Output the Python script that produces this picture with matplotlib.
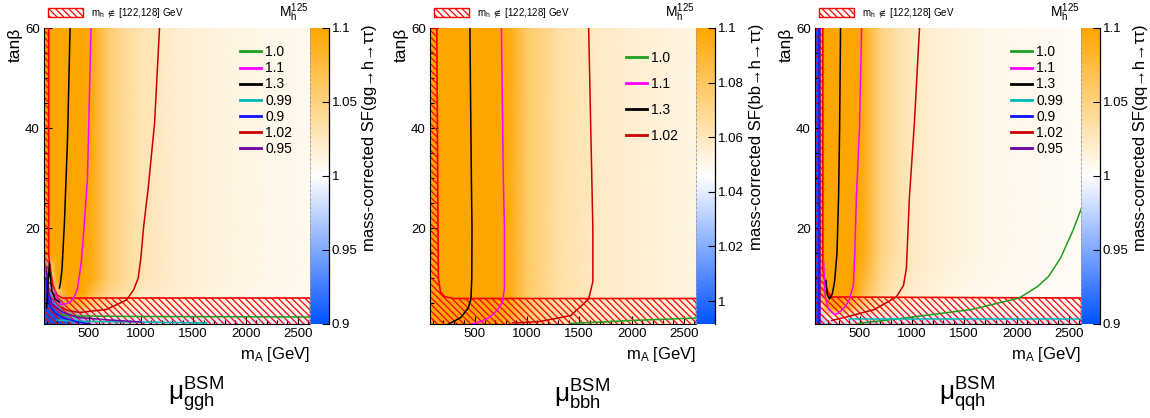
import numpy as np
import matplotlib
matplotlib.use("Agg")
import matplotlib.pyplot as plt
from matplotlib.colors import LinearSegmentedColormap, Normalize
from matplotlib.patches import Polygon, Patch
from matplotlib.lines import Line2D
from matplotlib.ticker import MultipleLocator, FormatStrFormatter

plt.rcParams['font.family'] = ['Liberation Sans', 'DejaVu Sans']
plt.rcParams['mathtext.fontset'] = 'custom'
plt.rcParams['mathtext.rm'] = 'Liberation Sans'
plt.rcParams['mathtext.it'] = 'Liberation Sans:italic'
plt.rcParams['hatch.linewidth'] = 0.9

# ---- heatmap grid (mA [GeV] x tanb) ----
mA_grid = [90, 115, 125, 200, 300, 450, 550, 700, 850, 1000, 1300, 1700, 2200, 2620]
tb_grid = [0.5, 2, 4, 7, 10, 15, 30, 60]

sf_ggh = [
    [0.85, 0.85, 0.86, 0.87, 0.9, 0.95, 0.97, 0.975, 0.975, 0.975, 0.978, 0.98, 0.982, 0.985],
    [0.85, 0.86, 0.87, 0.88, 0.92, 0.97, 0.985, 0.99, 0.99, 0.99, 0.99, 0.99, 0.992, 0.993],
    [0.86, 0.87, 0.88, 0.92, 1.08, 1.06, 1.04, 1.03, 1.02, 1.015, 1.01, 1.008, 1.006, 1.005],
    [0.88, 0.9, 0.92, 1.05, 1.2, 1.12, 1.07, 1.045, 1.035, 1.025, 1.018, 1.012, 1.008, 1.006],
    [0.92, 0.96, 1.0, 1.2, 1.2, 1.15, 1.09, 1.055, 1.04, 1.03, 1.02, 1.013, 1.009, 1.007],
    [1.1, 1.15, 1.2, 1.2, 1.2, 1.15, 1.09, 1.055, 1.04, 1.03, 1.02, 1.013, 1.009, 1.007],
    [1.2, 1.2, 1.2, 1.2, 1.2, 1.15, 1.09, 1.055, 1.04, 1.03, 1.02, 1.013, 1.009, 1.007],
    [1.2, 1.2, 1.2, 1.2, 1.2, 1.15, 1.09, 1.055, 1.04, 1.03, 1.02, 1.013, 1.009, 1.007],
]
sf_bbh = [
    [1.15, 1.15, 1.15, 1.15, 1.15, 1.15, 1.13, 1.1, 1.085, 1.072, 1.062, 1.056, 1.053, 1.051],
    [1.15, 1.15, 1.15, 1.15, 1.15, 1.15, 1.14, 1.11, 1.09, 1.075, 1.064, 1.057, 1.054, 1.052],
    [1.15, 1.15, 1.15, 1.15, 1.15, 1.15, 1.15, 1.12, 1.095, 1.078, 1.065, 1.058, 1.054, 1.052],
    [1.15, 1.15, 1.15, 1.15, 1.15, 1.15, 1.15, 1.12, 1.095, 1.078, 1.065, 1.058, 1.054, 1.052],
    [1.15, 1.15, 1.15, 1.15, 1.15, 1.15, 1.15, 1.12, 1.095, 1.078, 1.065, 1.058, 1.054, 1.052],
    [1.15, 1.15, 1.15, 1.15, 1.15, 1.15, 1.15, 1.12, 1.095, 1.078, 1.065, 1.058, 1.054, 1.052],
    [1.15, 1.15, 1.15, 1.15, 1.15, 1.15, 1.15, 1.12, 1.095, 1.078, 1.065, 1.058, 1.054, 1.052],
    [1.15, 1.15, 1.15, 1.15, 1.15, 1.15, 1.15, 1.12, 1.095, 1.078, 1.065, 1.058, 1.054, 1.052],
]
sf_qqh = [
    [0.88, 0.9, 0.95, 0.97, 0.975, 0.975, 0.975, 0.975, 0.975, 0.975, 0.975, 0.978, 0.98, 0.98],
    [0.88, 0.9, 0.97, 1.0, 1.0, 0.995, 0.99, 0.99, 0.99, 0.99, 0.99, 0.99, 0.99, 0.99],
    [0.88, 0.9, 1.0, 1.1, 1.1, 1.06, 1.04, 1.025, 1.015, 1.01, 1.006, 1.003, 1.001, 1.0],
    [0.88, 0.9, 1.1, 1.2, 1.15, 1.1, 1.07, 1.04, 1.028, 1.02, 1.012, 1.007, 1.004, 1.002],
    [0.88, 0.9, 1.15, 1.2, 1.2, 1.12, 1.08, 1.045, 1.03, 1.022, 1.013, 1.008, 1.005, 1.003],
    [0.88, 0.9, 1.2, 1.2, 1.2, 1.15, 1.09, 1.05, 1.035, 1.025, 1.015, 1.009, 1.006, 1.004],
    [0.88, 0.9, 1.2, 1.2, 1.2, 1.15, 1.09, 1.05, 1.035, 1.025, 1.015, 1.009, 1.006, 1.004],
    [0.88, 0.9, 1.2, 1.2, 1.2, 1.15, 1.09, 1.05, 1.035, 1.025, 1.015, 1.009, 1.006, 1.004],
]

# ---- mu contour lines (mA, tanb) ----
ggh_c10 = [(222, 2.6), (400, 2.4), (1000, 2.3), (2620, 2.2)]
ggh_c11 = [(524, 60), (490, 30), (450, 18), (432, 13.4), (410, 10), (394, 7.8), (360, 6),
           (318, 5.1), (280, 4.8), (241, 4.7), (210, 5.2), (193, 6.2), (180, 7.5)]
ggh_c13 = [(324, 60), (300, 38), (270, 21), (255, 15), (248, 12), (240, 10.5), (232, 9), (222, 8)]
ggh_c13b = [(100, 4), (112, 8), (126, 13), (134, 10.5), (150, 7.5), (180, 5.8), (222, 5.2)]
ggh_c099 = [(200, 1.6), (500, 1.3), (1000, 1.2), (1630, 1.0)]
ggh_c09 = [(92, 10), (105, 7), (130, 4.5), (180, 3), (260, 2), (400, 1.2), (500, 0.9)]
ggh_c102 = [(1178, 60), (1131, 41), (1070, 28), (1025, 20), (1000, 14), (975, 10), (930, 7.6),
            (863, 5.6), (670, 3.7), (414, 3.1), (300, 3.5), (250, 4.1)]
ggh_c095 = [(98, 12), (115, 7.5), (150, 4.8), (250, 3.2), (400, 2.1), (700, 1.6), (1000, 1.2)]

bbh_c10 = [(1418, 0.9), (2000, 1.5), (2620, 2.0)]
bbh_c11 = [(757, 60), (775, 30), (786, 20), (786, 8), (767, 5.2), (720, 3.6), (641, 2.1),
           (560, 1.3), (476, 0.8)]
bbh_c13 = [(456, 60), (470, 30), (476, 20), (474, 10), (466, 5.8), (440, 4), (369, 2.1),
           (300, 1.3), (252, 0.8)]
bbh_c102 = [(1590, 60), (1610, 40), (1630, 20), (1630, 9.3), (1590, 5.8), (1420, 2.5),
            (1125, 1.3), (865, 1.0)]

qqh_c10 = [(490, 0.9), (930, 2.0), (1570, 3.7), (2025, 6.0), (2200, 8.3), (2305, 10.3),
           (2420, 14), (2540, 19.6), (2620, 24)]
qqh_c11 = [(520, 60), (500, 40), (470, 26), (455, 15), (442, 8.6), (400, 5.5), (357, 4.1),
           (300, 3.0), (262, 2.7), (205, 3.7), (175, 6), (167, 8.6), (157, 13.4)]
qqh_c13 = [(319, 60), (310, 40), (300, 26), (285, 15), (262, 9.3), (240, 6.8), (214, 5.8),
           (195, 6.5), (186, 7.9), (180, 9.5)]
qqh_c099 = [(400, 1.9), (1000, 1.9), (2620, 1.9)]
qqh_c09 = [(112, 0.8), (112, 60)]
qqh_c102 = [(1073, 60), (1024, 41), (976, 26), (960, 18), (948, 12), (920, 8.5), (852, 6.2),
            (643, 3.7), (357, 2.1), (233, 1.5)]
qqh_c095 = [(122, 0.8), (122, 60)]

# ---- excluded m_h region outlines (mA, tanb) ----
excl_ggh = [(70, 0.5), (70, 60), (120, 60), (120, 15), (126, 13.4), (160, 8.5), (200, 6.6),
            (250, 6.0), (2620, 6.0), (2620, 0.5)]
excl_bbh = [(70, 0.5), (70, 60), (140, 60), (150, 25), (155, 10), (175, 7.2), (210, 6.3),
            (300, 5.9), (2620, 5.9), (2620, 0.5)]
excl_qqh = [(70, 0.5), (70, 60), (150, 60), (150, 12), (157, 10.7), (190, 7.5), (233, 6.2),
            (2620, 6.0), (2620, 0.5)]

col = {'1.0': '#1f9e1f', '1.1': '#ff00ff', '1.3': 'black', '0.99': '#00b8b8',
       '0.9': '#1010ff', '1.02': '#cc0000', '0.95': '#7000a0'}

cmap = LinearSegmentedColormap.from_list('sf', [(0.0, 0.32, 1.0), (1, 1, 1), (1.0, 0.647, 0.0)])
HATCH = '\\\\\\\\\\'

W, H = 1150, 418
fig = plt.figure(figsize=(W / 100, H / 100), dpi=100)

panels = [
    dict(sf=sf_ggh, lines=[('1.0', ggh_c10), ('1.1', ggh_c11), ('1.3', ggh_c13), ('0.99', ggh_c099),
                           ('0.9', ggh_c09), ('1.02', ggh_c102), ('0.95', ggh_c095)],
         extra=[('1.3', ggh_c13b)], excl=excl_ggh, vmin=0.9, vmax=1.1,
         cticks=[0.9, 0.95, 1.0, 1.05, 1.1], proc='gg', sub='ggh', left=44,
         lspace=0.15, ly=0.965),
    dict(sf=sf_bbh, lines=[('1.0', bbh_c10), ('1.1', bbh_c11), ('1.3', bbh_c13), ('1.02', bbh_c102)],
         extra=[], excl=excl_bbh, vmin=0.9916, vmax=1.1,
         cticks=[1.0, 1.02, 1.04, 1.06, 1.08, 1.1], proc='bb', sub='bbh', left=430,
         lspace=0.85, ly=0.945),
    dict(sf=sf_qqh, lines=[('1.0', qqh_c10), ('1.1', qqh_c11), ('1.3', qqh_c13), ('0.99', qqh_c099),
                           ('0.9', qqh_c09), ('1.02', qqh_c102), ('0.95', qqh_c095)],
         extra=[], excl=excl_qqh, vmin=0.9, vmax=1.1,
         cticks=[0.9, 0.95, 1.0, 1.05, 1.1], proc='qq', sub='qqh', left=815,
         lspace=0.15, ly=0.965),
]

top, bot = 28, 324
aw, cw = 266, 19
for p in panels:
    x0 = p['left']
    ax = fig.add_axes([x0 / W, 1 - bot / H, aw / W, (bot - top) / H])
    cax = fig.add_axes([(x0 + aw) / W, 1 - bot / H, cw / W, (bot - top) / H])

    norm = Normalize(vmin=p['vmin'], vmax=p['vmax'])
    mesh = ax.pcolormesh(mA_grid, tb_grid, np.array(p['sf']), cmap=cmap, norm=norm,
                         shading='gouraud', zorder=0)

    ax.add_patch(Polygon(p['excl'], closed=True, facecolor='none', edgecolor='#ff0000',
                         hatch=HATCH, lw=1.2, zorder=2))

    handles = []
    for lab, pts in p['lines']:
        xs, ys = zip(*pts)
        ax.plot(xs, ys, color=col[lab], lw=1.1, zorder=3)
        handles.append(Line2D([], [], color=col[lab], lw=2, label=lab))
    for lab, pts in p['extra']:
        xs, ys = zip(*pts)
        ax.plot(xs, ys, color=col[lab], lw=1.1, zorder=3)

    ax.set_xlim(75, 2615)
    ax.set_ylim(0.8, 60)
    ax.set_xticks([500, 1000, 1500, 2000, 2500])
    ax.set_yticks([20, 40, 60])
    ax.xaxis.set_minor_locator(MultipleLocator(100))
    ax.yaxis.set_minor_locator(MultipleLocator(5))
    ax.tick_params(which='both', direction='in', labelsize=9.5, width=0.8, pad=3)
    ax.tick_params(which='major', length=6)
    ax.tick_params(which='minor', length=3)
    for s in ('top', 'right'):
        ax.spines[s].set_visible(False)

    leg = ax.legend(handles=handles, loc='upper left', bbox_to_anchor=(0.71, p['ly']),
                    frameon=False, fontsize=10, handlelength=1.5, handletextpad=0.35,
                    labelspacing=p['lspace'], borderpad=0)
    ax.add_artist(leg)
    hpatch = Patch(facecolor='white', edgecolor='#ff0000', hatch=HATCH, lw=1.0,
                   label=r'$\mathrm{m_h}\ \notin\ $[122,128] GeV')
    ax.legend(handles=[hpatch], loc='lower left', bbox_to_anchor=(-0.01, 1.005), frameon=False,
              fontsize=7, handlelength=3.6, handleheight=1.0, handletextpad=0.8, borderpad=0.2)

    ax.text(0.995, 1.012, r'$\mathrm{M_h^{125}}$', transform=ax.transAxes, ha='right',
            va='bottom', fontsize=10)

    cb = fig.colorbar(mesh, cax=cax)
    cb.set_ticks(p['cticks'])
    cb.ax.yaxis.set_major_formatter(FormatStrFormatter('%g'))
    cb.outline.set_visible(False)
    cax.tick_params(direction='in', length=5, width=0.8, labelsize=9.5, pad=2)
    cax.plot([1, 1], [0, 1], transform=cax.transAxes, color='black', lw=0.9, clip_on=False)
    cax.plot([0, 0], [0, 1], transform=cax.transAxes, color='#999999', lw=0.6, ls='--',
             clip_on=False)

    fig.text((x0 + 326) / W, 1 - (top - 4) / H, 'mass-corrected SF(%s→h→ττ)' % p['proc'],
             rotation=90, ha='center', va='top', fontsize=12)
    fig.text((x0 - 29) / W, 1 - top / H, 'tanβ', rotation=90, ha='center', va='top', fontsize=12.5)
    fig.text((x0 + aw) / W, 1 - 355 / H, r'$\mathrm{m_A}$ [GeV]', ha='right', va='center',
             fontsize=12)
    fig.text((x0 + aw / 2 + 19) / W, 1 - 395 / H,
             r'$\mathrm{μ}^{\mathrm{BSM}}_{\mathrm{%s}}$' % p['sub'], ha='center', va='center',
             fontsize=19)

fig.savefig('out.png', dpi=100)
